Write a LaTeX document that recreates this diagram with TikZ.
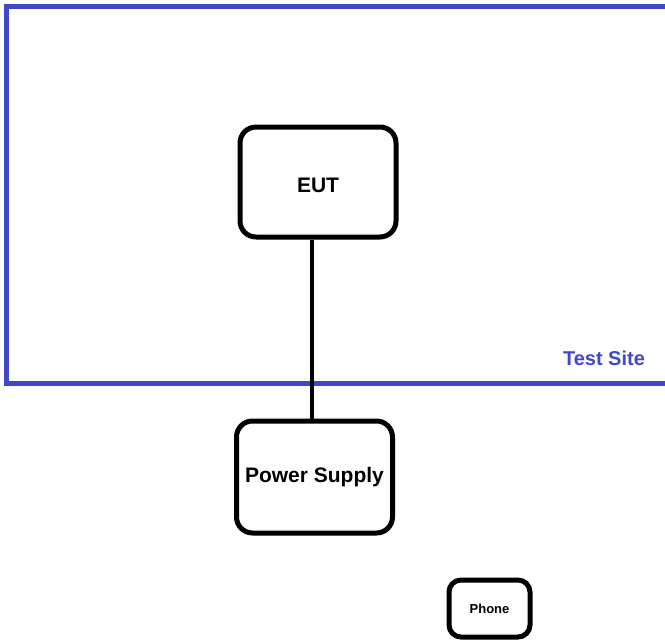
\documentclass[tikz,border=0pt]{standalone}
\usepackage{fontspec}
\setmainfont{Liberation Sans}
\definecolor{siteblue}{RGB}{63,72,204}

\begin{document}
\begin{tikzpicture}[x=1pt, y=-1pt,
    unit/.style={draw, line width=5pt, rounded corners=16pt, inner sep=0pt,
                 font=\bfseries\fontsize{21}{24}\selectfont},
    link/.style={draw, line width=4.5pt}]
  \clip (0,0) rectangle (665,641);
  \useasboundingbox (0,0) rectangle (665,641);
  % test site border, its right side runs off the page
  \draw [siteblue, line width=5pt] (700,6) -- (6.5,6) -- (6.5,383.5) -- (700,383.5);
  \node [siteblue, font=\bfseries\fontsize{20}{24}\selectfont] (site) at (604,358.5) {Test Site};
  \node [unit, minimum width=156pt, minimum height=110pt, text height=22pt] (eut) at (318,182) {EUT};
  \node [unit, minimum width=156pt, minimum height=112pt] (ps) at (314.5,477) {Power Supply};
  \node [unit, minimum width=81pt, minimum height=57pt, rounded corners=12pt,
         font=\bfseries\fontsize{13}{15}\selectfont] (phone) at (489.5,608.5) {Phone};
  \draw [link] ([xshift=-6pt]eut.south) -- ([xshift=-2.5pt]ps.north);
\end{tikzpicture}
\end{document}
